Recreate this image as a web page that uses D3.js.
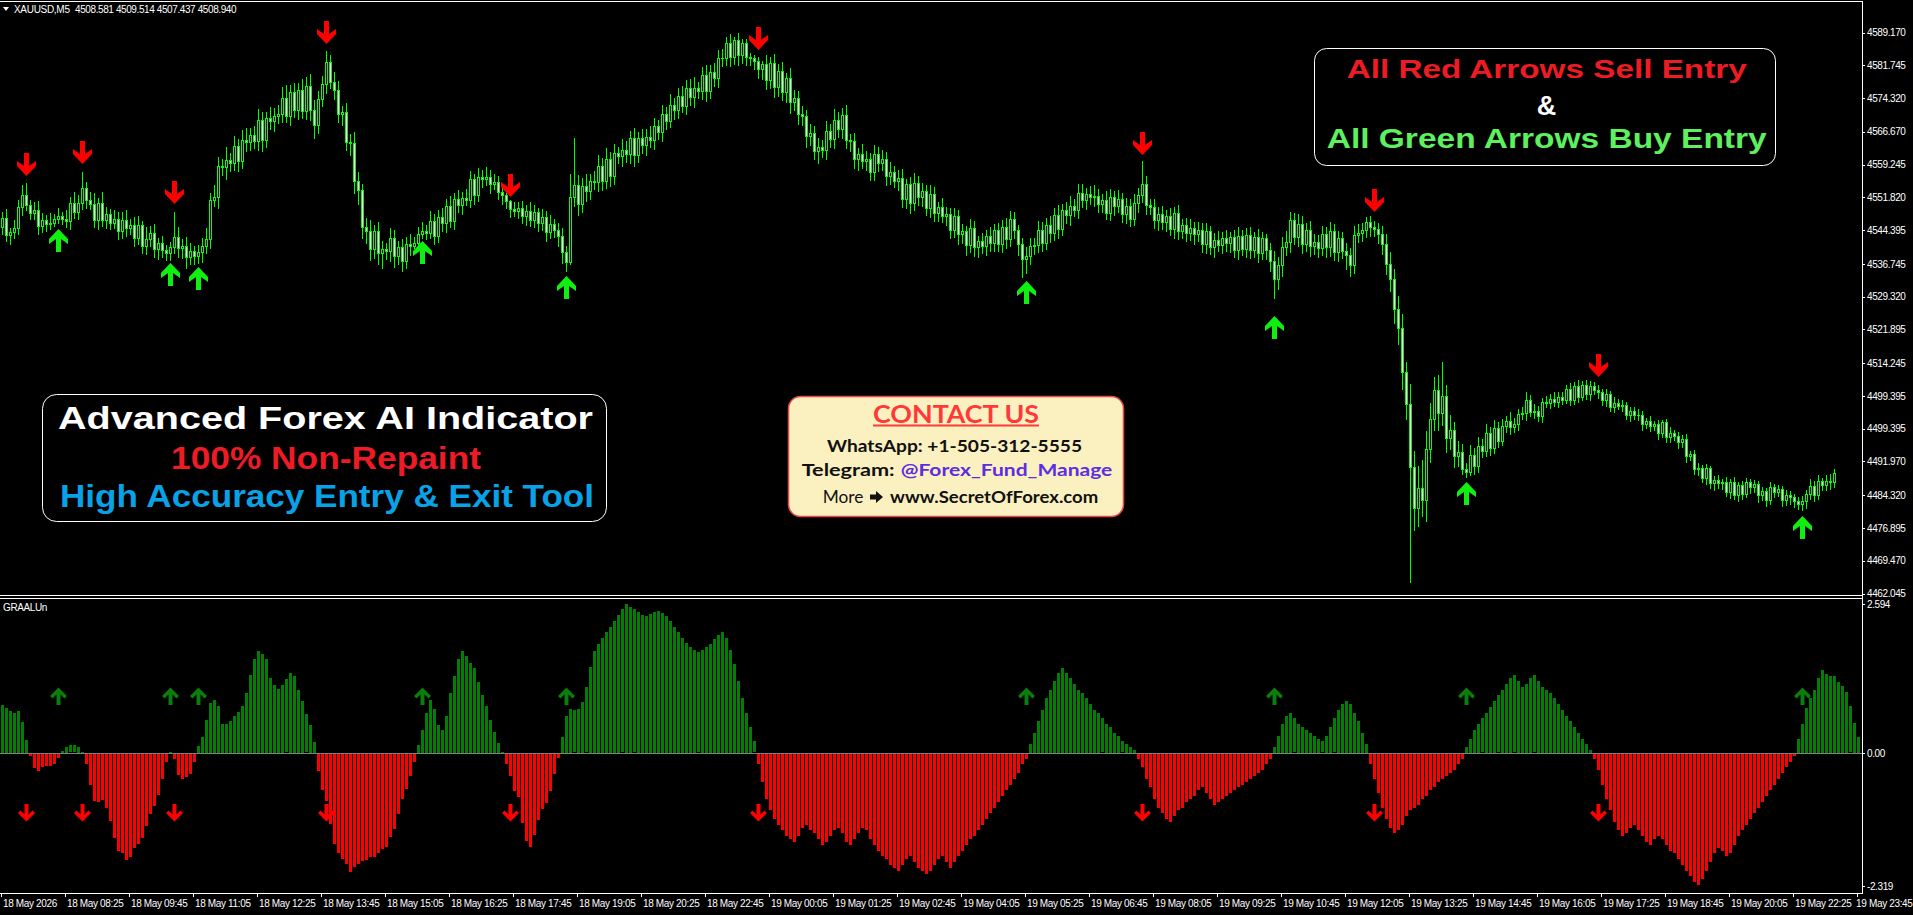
<!DOCTYPE html>
<html><head><meta charset="utf-8">
<script src="https://cdn.jsdelivr.net/npm/d3@7"></script>
<style>
html,body{margin:0;padding:0;background:#000;overflow:hidden}
svg{display:block}
text{font-family:"Liberation Sans",Arial,sans-serif}
</style></head><body>
<svg id="c" width="1913" height="915"></svg>
<script>
// ---------- DATA ----------
const symbolLabel = "XAUUSD,M5";
const quoteLabel = "4508.581 4509.514 4507.437 4508.940";
const indicatorName = "GRAALUn";
const openFirst = 4545.2;
const closes = [
4547.1,4543.2,4543.9,4544.8,4549.7,4552.4,4550.1,4548.3,4548.9,4545.3,
4546.7,4545.7,4545.9,4546.8,4547.6,4546.9,4546.4,4550.5,4548.4,4550.6,
4554.0,4551.2,4550.4,4546.6,4550.6,4546.6,4548.0,4546.1,4547.0,4544.2,
4546.6,4544.8,4545.6,4542.7,4545.5,4540.9,4542.4,4543.8,4540.0,4541.5,
4539.8,4539.2,4540.5,4542.9,4540.3,4540.9,4538.4,4539.7,4538.6,4539.4,
4540.8,4542.3,4551.3,4551.8,4558.9,4558.8,4560.3,4559.5,4563.5,4560.1,
4564.9,4564.4,4566.0,4564.5,4569.3,4564.7,4569.8,4569.2,4570.3,4570.7,
4574.4,4570.3,4575.7,4571.6,4576.2,4571.3,4577.1,4571.7,4568.3,4574.2,
4577.5,4582.4,4578.0,4576.2,4570.6,4571.1,4564.4,4564.1,4555.5,4553.4,
4545.1,4544.3,4540.0,4544.3,4539.3,4540.2,4539.6,4542.6,4538.6,4540.5,
4537.3,4541.3,4540.8,4541.5,4543.4,4544.2,4543.8,4546.4,4543.1,4547.4,
4545.9,4549.8,4546.4,4551.5,4550.1,4551.6,4551.2,4555.9,4552.3,4556.5,
4556.0,4556.5,4554.9,4555.4,4553.1,4552.3,4550.9,4549.2,4548.8,4549.3,
4547.5,4548.8,4546.7,4548.4,4546.0,4547.3,4544.0,4545.7,4544.5,4543.0,
4539.4,4537.2,4552.0,4554.5,4550.4,4554.3,4553.3,4555.5,4555.2,4559.0,
4555.5,4560.6,4556.7,4561.8,4561.1,4562.5,4561.7,4565.2,4561.4,4565.2,
4563.7,4565.6,4564.8,4567.9,4566.6,4570.6,4569.2,4572.8,4571.5,4574.7,
4572.6,4576.7,4574.6,4576.5,4575.9,4579.5,4575.9,4580.2,4578.9,4583.5,
4583.4,4586.8,4583.6,4587.4,4584.0,4586.9,4583.7,4583.5,4582.8,4580.9,
4582.1,4578.3,4582.2,4576.8,4580.4,4575.6,4578.8,4573.4,4574.4,4570.6,
4570.2,4565.8,4566.3,4562.3,4563.2,4562.5,4566.8,4565.1,4569.3,4567.4,
4570.4,4564.8,4564.6,4560.5,4561.6,4560.0,4560.6,4557.6,4561.7,4559.7,
4560.6,4556.7,4557.6,4555.6,4556.2,4551.4,4554.8,4550.6,4555.1,4551.9,
4553.2,4549.5,4552.6,4548.3,4549.7,4547.7,4548.1,4544.5,4547.5,4543.4,
4544.2,4541.0,4544.9,4540.5,4542.0,4540.9,4543.0,4541.5,4544.5,4541.2,
4545.2,4542.3,4547.0,4544.5,4541.2,4537.9,4538.6,4540.9,4541.1,4544.4,
4541.5,4545.6,4543.7,4547.8,4544.6,4548.9,4547.8,4549.8,4549.0,4552.8,
4551.2,4552.5,4551.9,4552.2,4550.4,4551.2,4548.3,4551.8,4549.9,4551.5,
4548.0,4549.9,4547.0,4550.5,4552.4,4554.8,4550.0,4549.6,4546.6,4548.1,
4546.2,4547.5,4544.7,4548.2,4544.1,4545.6,4543.8,4544.9,4543.4,4544.4,
4541.2,4544.1,4540.6,4542.2,4541.1,4542.6,4541.5,4542.9,4539.8,4543.1,
4540.2,4543.2,4539.8,4542.8,4539.2,4542.5,4539.8,4537.5,4533.2,4536.4,
4540.6,4541.6,4546.6,4542.8,4545.8,4541.2,4544.4,4540.7,4541.8,4540.4,
4543.5,4540.5,4544.2,4539.5,4542.5,4539.6,4538.8,4536.5,4543.2,4543.7,
4544.4,4546.2,4545.0,4544.6,4543.4,4541.2,4536.6,4533.4,4526.5,4522.3,
4512.3,4505.0,4490.6,4481.5,4486.0,4483.2,4494.8,4501.6,4508.2,4503.0,
4506.8,4497.3,4499.0,4493.1,4494.1,4490.2,4489.6,4493.4,4491.0,4495.5,
4494.4,4498.4,4495.1,4499.6,4496.7,4499.9,4501.2,4499.8,4500.5,4502.8,
4502.9,4506.0,4503.2,4503.4,4502.3,4505.4,4505.2,4506.2,4505.5,4506.6,
4506.0,4508.4,4506.0,4509.0,4506.6,4509.4,4507.3,4509.0,4508.2,4507.6,
4505.8,4507.3,4504.3,4505.3,4504.6,4504.8,4502.5,4503.4,4502.5,4502.6,
4500.4,4501.1,4500.1,4500.4,4498.4,4500.8,4497.5,4498.5,4497.7,4496.4,
4497.1,4493.2,4493.7,4490.3,4490.4,4488.2,4490.4,4487.0,4487.7,4487.0,
4487.4,4485.0,4487.2,4484.4,4486.7,4484.6,4487.2,4486.1,4486.8,4484.3,
4485.3,4483.2,4486.1,4485.1,4485.7,4483.2,4484.3,4483.9,4483.0,4482.4,
4482.9,4484.5,4486.5,4484.3,4487.5,4486.7,4487.6,4487.2,4489.3];
const wickUp = [
1.4,2.1,0.9,1.8,1.5,2.3,2.6,1.2,1.9,2.2, 1.6,1.1,2.4,1.3,1.7,0.9,2.0,1.5,2.6,1.8,
3.5,1.4,1.9,2.3,1.1,2.5,1.6,1.2,2.0,1.4, 1.8,2.4,1.3,1.7,2.1,1.0,2.6,1.5,1.9,1.2,
1.6,1.3,1.1,5.5,2.2,1.5,2.0,1.8,1.2,1.6, 1.9,2.5,1.4,2.8,2.1,1.7,2.9,1.6,2.3,1.5,
2.2,2.7,1.6,1.9,2.5,1.8,1.4,2.6,1.7,2.1, 2.4,2.8,1.5,2.0,1.6,2.5,1.9,2.7,2.1,1.8,
1.8,2.5,1.6,2.3,1.9,1.5,2.2,1.8,2.6,2.0, 1.5,2.1,2.4,1.3,2.0,1.7,1.2,2.3,1.8,1.4,
1.9,1.5,2.2,1.3,1.6,2.0,1.4,2.3,1.7,1.5, 2.1,1.6,2.4,1.4,1.9,1.5,2.2,1.8,1.3,2.0,
1.5,2.1,1.6,1.8,1.3,0.8,0.6,0.3,1.5,1.4, 1.7,1.3,2.0,1.6,1.1,1.8,1.4,2.1,1.2,1.6,
1.9,1.5,5.0,10.8,2.3,1.9,2.7,1.7,2.2,2.5, 1.8,2.4,1.6,2.1,1.5,2.5,2.0,1.7,2.3,1.5,
2.0,1.6,2.4,1.9,1.4,2.2,1.8,2.5,1.5,1.9, 2.3,1.6,2.0,2.6,1.5,1.9,2.4,1.7,2.1,1.8,
1.9,1.3,2.0,0.8,1.6,0.8,0.9,0.8,0.5,0.8, 0.7,1.9,1.5,2.2,1.6,2.0,1.3,2.3,1.7,1.5,
1.9,1.3,2.1,1.6,2.0,1.5,2.4,1.7,2.6,1.9, 1.6,2.3,1.4,1.9,1.5,2.2,1.8,1.2,2.0,1.6,
1.9,1.5,2.3,1.4,1.8,2.0,1.2,1.6,2.2,1.5, 1.8,1.4,2.0,1.6,1.1,1.9,1.5,1.2,1.8,1.4,
1.6,1.2,1.9,1.5,1.1,1.8,1.4,2.0,1.2,1.6, 1.5,2.0,1.8,1.4,1.1,1.5,1.9,1.6,1.4,2.1,
1.8,1.5,2.0,1.6,2.3,1.4,1.9,2.4,1.6,2.0, 2.1,1.5,1.9,2.5,1.6,1.4,2.0,1.8,1.5,1.9,
1.4,1.8,1.5,2.0,1.6,5.2,1.8,1.4,1.9,1.5, 1.8,1.4,2.0,1.5,1.9,1.2,1.6,2.1,1.4,1.8,
1.5,1.9,1.2,1.6,2.0,1.4,1.8,1.1,1.5,1.9, 1.4,1.6,2.0,1.2,1.8,1.5,1.1,1.6,2.1,1.9,
2.2,2.6,2.0,1.6,2.3,1.9,1.5,2.1,1.8,1.4, 1.9,1.6,2.0,1.5,1.8,1.4,1.9,1.6,2.2,2.0,
1.5,1.1,1.4,1.5,1.5,1.9,2.3,2.8,2.1,3.0, 3.0,2.2,4.5,3.8,5.0,6.2,4.1,3.5,2.8,3.3,
7.6,2.6,3.4,2.0,2.5,1.8,1.4,2.2,1.6,1.9, 1.5,2.0,1.3,1.7,1.2,1.6,1.1,1.9,1.4,1.0,
1.3,1.8,1.0,1.5,1.2,0.9,1.4,1.1,1.6,1.0, 1.2,0.9,1.3,1.0,1.4,0.8,1.1,1.2,0.9,1.2,
0.8,1.0,0.7,1.2,0.9,1.1,0.6,1.0,0.8,1.2, 0.9,0.7,1.1,0.8,1.0,0.6,0.9,1.2,0.7,1.0,
0.8,1.1,0.7,0.9,1.2,0.8,1.0,0.6,0.9,1.1, 0.7,1.0,0.8,1.2,0.6,0.9,1.1,0.7,1.0,0.8,
0.9,0.6,1.1,0.8,1.0,0.7,1.2,0.9,0.6,1.0, 1.3,0.9,1.5,1.1,1.4,0.8,1.2,1.6,1.0];
const wickDn = [
1.6,1.2,2.0,1.4,1.3,1.8,1.1,1.5,1.4,1.9, 1.3,1.6,1.1,0.5,0.9,1.2,1.4,1.7,1.2,1.6,
1.4,1.8,1.3,1.6,2.0,1.2,1.7,1.5,1.3,1.9, 1.5,1.7,1.2,2.0,1.4,1.6,1.9,1.5,1.7,2.1,
1.6,1.5,1.6,1.3,1.9,2.2,2.5,1.8,1.8,1.6, 2.2,1.6,2.0,1.5,2.3,1.9,2.8,1.7,1.5,2.4,
1.6,2.1,1.9,1.4,2.0,2.3,1.5,1.8,2.4,1.6, 1.9,1.5,2.1,1.6,2.0,1.4,1.8,2.3,3.1,1.9,
1.6,2.0,1.5,2.2,1.8,2.4,1.9,2.6,2.8,3.2, 2.6,2.9,2.3,2.0,2.7,3.5,1.8,2.1,2.5,1.9,
2.2,1.6,2.0,0.5,0.5,0.9,1.5,1.3,1.9,1.4, 1.6,1.9,1.3,1.8,1.5,2.0,1.2,1.6,1.9,1.3,
1.8,1.5,2.0,1.3,1.6,1.9,1.5,1.8,1.3,1.6, 1.5,1.9,1.3,1.6,1.8,1.5,2.0,1.3,1.6,2.2,
2.5,2.0,0.6,2.1,2.5,1.8,2.2,1.9,1.6,2.0, 2.1,1.6,2.3,1.9,1.5,2.2,1.8,2.0,2.4,1.6,
1.9,2.2,1.5,2.0,1.6,2.1,1.8,1.4,1.9,1.6, 1.5,2.0,1.8,2.3,1.6,1.9,2.2,1.5,1.8,2.0,
1.9,1.6,2.1,1.5,2.2,1.8,2.0,1.6,1.9,2.1, 2.3,1.9,1.6,2.2,2.0,1.8,2.1,2.4,1.9,2.2,
2.0,2.5,2.2,1.9,2.6,1.6,2.0,1.8,2.1,1.9, 2.2,1.9,2.3,2.0,2.5,1.6,2.1,1.9,1.8,2.0,
1.6,2.1,1.9,1.5,2.2,1.8,2.0,2.3,1.6,1.9, 2.0,1.6,2.1,1.8,1.9,1.5,2.2,2.0,1.6,2.1,
1.9,2.2,1.5,2.0,2.3,1.6,2.1,1.8,1.9,1.5, 1.8,2.0,1.5,1.9,2.5,4.2,3.2,2.0,2.0,1.6,
1.9,1.5,2.1,1.6,2.0,1.4,1.8,2.2,1.5,1.9, 1.6,2.0,1.5,2.1,1.8,1.9,1.4,1.6,2.0,1.5,
1.8,2.1,1.6,1.4,1.9,1.6,2.0,1.5,1.8,2.1, 1.6,1.9,1.5,2.0,1.8,1.4,1.9,1.6,2.1,1.5,
1.8,2.0,1.6,2.2,1.5,1.9,1.8,2.1,1.6,1.9, 1.5,2.0,1.8,1.6,2.1,1.4,1.9,2.3,4.3,2.2,
2.5,1.8,2.1,1.6,2.0,1.9,1.5,2.2,1.8,2.0, 1.6,2.1,1.9,1.8,2.2,1.5,3.3,2.5,1.9,1.6,
1.8,1.5,2.0,1.6,1.9,2.3,2.1,2.7,3.2,3.8, 4.0,3.5,26.0,5.0,4.2,3.6,4.8,3.0,2.5,4.0,
2.8,3.2,2.6,2.4,2.1,1.0,1.2,0.8,1.8,1.5, 1.4,1.1,1.6,1.2,1.5,1.0,1.3,1.7,1.1,1.4,
1.2,1.5,1.0,1.3,1.1,1.4,0.9,1.2,1.0,1.3, 1.1,0.9,1.3,1.0,1.2,0.8,1.1,1.4,0.9,1.2,
1.0,1.3,0.9,1.1,0.8,1.2,1.0,1.4,0.9,1.1, 1.3,0.9,1.2,1.0,1.4,0.8,1.1,1.2,0.9,1.3,
1.1,1.4,1.0,1.2,1.5,0.9,1.3,1.1,1.6,1.0, 1.2,0.9,1.4,1.0,1.3,1.1,0.8,1.2,1.0,1.5,
1.1,1.3,0.9,1.2,1.0,1.4,1.1,1.6,1.3,1.2, 1.5,1.4,1.0,1.3,0.9,1.2,1.1,1.4,1.0];
const histValues = [
0.83,0.78,0.73,0.69,0.73,0.54,0.22,-0.06,-0.26,-0.31,
-0.24,-0.22,-0.22,-0.19,-0.08,0.04,0.11,0.13,0.13,0.11,
0.02,-0.19,-0.55,-0.83,-0.85,-0.82,-0.96,-1.18,-1.48,-1.71,
-1.75,-1.86,-1.82,-1.66,-1.58,-1.48,-1.27,-1.07,-0.92,-0.73,
-0.46,-0.16,0.02,-0.11,-0.39,-0.45,-0.41,-0.37,-0.15,0.12,
0.28,0.58,0.87,0.92,0.82,0.51,0.51,0.56,0.64,0.71,
0.82,1.05,1.36,1.63,1.77,1.73,1.63,1.30,1.19,1.11,
1.18,1.28,1.39,1.34,1.09,0.91,0.67,0.49,0.19,-0.31,
-0.64,-0.84,-1.24,-1.59,-1.75,-1.84,-1.93,-2.07,-1.99,-1.93,
-1.88,-1.87,-1.81,-1.82,-1.75,-1.68,-1.63,-1.47,-1.32,-1.07,
-0.81,-0.62,-0.40,-0.15,0.14,0.40,0.69,0.92,0.76,0.49,
0.40,0.65,1.05,1.34,1.64,1.77,1.69,1.57,1.48,1.23,
1.01,0.82,0.58,0.37,0.17,0.02,-0.19,-0.40,-0.66,-0.77,
-1.22,-1.53,-1.63,-1.43,-1.16,-0.98,-0.87,-0.66,-0.37,-0.09,
0.28,0.64,0.76,0.74,0.76,0.89,1.14,1.50,1.77,1.90,
2.00,2.10,2.20,2.30,2.40,2.50,2.59,2.55,2.50,2.45,
2.40,2.38,2.42,2.45,2.47,2.44,2.38,2.30,2.20,2.10,
2.00,1.92,1.85,1.80,1.75,1.80,1.85,1.90,1.98,2.05,
2.10,2.00,1.80,1.55,1.25,0.95,0.70,0.45,0.20,-0.20,
-0.50,-0.80,-1.00,-1.15,-1.25,-1.35,-1.45,-1.50,-1.55,-1.45,
-1.30,-1.25,-1.35,-1.40,-1.50,-1.60,-1.55,-1.45,-1.35,-1.30,
-1.40,-1.55,-1.60,-1.50,-1.40,-1.30,-1.35,-1.50,-1.60,-1.70,
-1.80,-1.85,-1.95,-2.00,-2.05,-1.95,-1.85,-1.80,-1.90,-2.00,
-2.05,-2.10,-2.05,-1.95,-1.85,-1.80,-1.90,-2.00,-1.90,-1.80,
-1.70,-1.60,-1.50,-1.45,-1.35,-1.25,-1.15,-1.05,-0.95,-0.85,
-0.75,-0.65,-0.55,-0.45,-0.35,-0.20,-0.10,0.15,0.35,0.55,
0.75,0.95,1.10,1.25,1.40,1.48,1.40,1.30,1.20,1.10,
1.05,0.95,0.85,0.75,0.70,0.60,0.50,0.45,0.35,0.30,
0.20,0.15,0.10,0.05,-0.10,-0.25,-0.45,-0.60,-0.80,-0.95,
-1.05,-1.15,-1.20,-1.10,-1.00,-0.95,-0.85,-0.80,-0.75,-0.65,
-0.60,-0.70,-0.80,-0.90,-0.85,-0.80,-0.75,-0.70,-0.65,-0.60,
-0.55,-0.50,-0.45,-0.40,-0.35,-0.30,-0.20,-0.10,0.10,0.30,
0.50,0.65,0.70,0.60,0.50,0.45,0.40,0.35,0.30,0.25,
0.20,0.30,0.45,0.60,0.75,0.85,0.90,0.85,0.70,0.55,
0.35,0.15,-0.20,-0.45,-0.70,-0.95,-1.15,-1.30,-1.40,-1.35,
-1.25,-1.10,-1.00,-0.95,-0.90,-0.80,-0.75,-0.65,-0.60,-0.50,
-0.45,-0.40,-0.35,-0.30,-0.20,-0.10,0.10,0.25,0.40,0.50,
0.60,0.70,0.80,0.90,1.00,1.10,1.20,1.30,1.35,1.25,
1.15,1.20,1.30,1.35,1.25,1.15,1.10,1.05,0.95,0.85,
0.75,0.65,0.55,0.45,0.35,0.25,0.15,0.05,-0.10,-0.30,
-0.55,-0.80,-1.00,-1.20,-1.35,-1.45,-1.40,-1.30,-1.25,-1.35,
-1.45,-1.55,-1.60,-1.50,-1.45,-1.50,-1.60,-1.70,-1.75,-1.85,
-1.95,-2.05,-2.15,-2.25,-2.30,-2.20,-2.05,-1.90,-1.75,-1.65,
-1.70,-1.80,-1.75,-1.60,-1.45,-1.35,-1.25,-1.15,-1.05,-0.95,
-0.85,-0.75,-0.65,-0.55,-0.45,-0.35,-0.25,-0.15,-0.05,0.25,
0.50,0.78,0.95,1.10,1.30,1.45,1.38,1.34,1.34,1.24,
1.17,1.06,0.81,0.52,0.28];
const sellIdx = [6,20,43,81,127,189,285,343,399];
const sellTip = [4556.6,4559.4,4550.2,4586.5,4551.9,4585.1,4561.3,4548.4,4511.0];
const buyIdx  = [14,42,49,105,141,256,318,366,450];
const buyTip  = [4544.7,4536.9,4536.1,4541.9,4533.9,4532.8,4525.0,4487.2,4479.7];
const subBuyLevel = 1.15;
const subSellLevel = -1.2;
const priceTicks = [4589.17,4581.745,4574.32,4566.67,4559.245,4551.82,4544.395,4536.745,4529.32,4521.895,4514.245,4506.82,4499.395,4491.97,4484.32,4476.895,4469.47,4462.045];
const priceTickLabels = ["4589.170","4581.745","4574.320","4566.670","4559.245","4551.820","4544.395","4536.745","4529.320","4521.895","4514.245","4499.395","4499.395","4491.970","4484.320","4476.895","4469.470","4462.045"];
const histTicks = [2.594, 0, -2.319];
const histTickLabels = ["2.594","0.00","-2.319"];
const timeLabels = ["18 May 2026","18 May 08:25","18 May 09:45","18 May 11:05","18 May 12:25","18 May 13:45","18 May 15:05","18 May 16:25","18 May 17:45","18 May 19:05","18 May 20:25","18 May 22:45","19 May 00:05","19 May 01:25","19 May 02:45","19 May 04:05","19 May 05:25","19 May 06:45","19 May 08:05","19 May 09:25","19 May 10:45","19 May 12:05","19 May 13:25","19 May 14:45","19 May 16:05","19 May 17:25","19 May 18:45","19 May 20:05","19 May 22:25","19 May 23:45"];
const barsPerLabel = 16;
const leftBoxLines = ["Advanced Forex AI Indicator","100% Non-Repaint","High Accuracy Entry & Exit Tool"];
const rightBoxLines = ["All Red Arrows Sell Entry","&","All Green Arrows Buy Entry"];
const contactTitle = "CONTACT US";
const contactWhatsApp = "WhatsApp: +1-505-312-5555";
const contactTelegramLabel = "Telegram:";
const contactTelegramHandle = "@Forex_Fund_Manage";
const contactMore = "More";
const contactSite = "www.SecretOfForex.com";

// ---------- CHART ----------
const svg = d3.select('#c');
const RIGHT = 1862;
const x = d3.scaleLinear().domain([0, 464]).range([2.5, 1858.5]);
const y = d3.scaleLinear().domain([4462.045, 4589.17]).range([593.5, 32.5]);
const yh = d3.scaleLinear().domain([-2.319, 2.594]).range([886, 604]);

svg.append('rect').attr('width',1913).attr('height',915).attr('fill','#000');

// frame lines
const frame = svg.append('g').attr('stroke','#fff').attr('stroke-width',1).attr('shape-rendering','crispEdges');
frame.append('line').attr('x1',0).attr('x2',RIGHT).attr('y1',1.5).attr('y2',1.5);
frame.append('line').attr('x1',0).attr('x2',RIGHT).attr('y1',595.5).attr('y2',595.5);
frame.append('line').attr('x1',0).attr('x2',RIGHT).attr('y1',598.5).attr('y2',598.5);
frame.append('line').attr('x1',0).attr('x2',RIGHT+0.5).attr('y1',893.5).attr('y2',893.5);
frame.append('line').attr('x1',RIGHT+0.5).attr('x2',RIGHT+0.5).attr('y1',1).attr('y2',894);

// candles
const candles = closes.map((c,i)=>{
  const o = i ? closes[i-1] : openFirst;
  return {i, o, c, h: Math.max(o,c)+wickUp[i], l: Math.min(o,c)-wickDn[i]};
});
const gC = svg.append('g').attr('shape-rendering','crispEdges');
gC.selectAll('line.wick').data(candles).join('line').attr('class','wick')
  .attr('x1',d=>x(d.i)).attr('x2',d=>x(d.i))
  .attr('y1',d=>Math.round(y(d.h))).attr('y2',d=>Math.round(y(d.l))+1)
  .attr('stroke','#00ff00').attr('stroke-width',1);
const bodyTop = d=>Math.round(y(Math.max(d.o,d.c)));
const bodyH = d=>Math.max(1, Math.round(y(Math.min(d.o,d.c))) - bodyTop(d) + 1);
gC.selectAll('rect.body').data(candles).join('rect').attr('class','body')
  .attr('x',d=>x(d.i)-1.5).attr('width',3)
  .attr('y',bodyTop).attr('height',bodyH).attr('fill','#00ff00');
gC.selectAll('rect.fill').data(candles.filter(d=>bodyH(d)>=3)).join('rect').attr('class','fill')
  .attr('x',d=>x(d.i)-0.5).attr('width',1)
  .attr('y',d=>bodyTop(d)+1).attr('height',d=>bodyH(d)-2)
  .attr('fill',d=>d.c>=d.o ? '#000' : '#fff');

// main arrows
const downPts = [[-2.5,-23],[2.5,-23],[2.5,-10],[9.5,-15],[9.5,-10],[0,0],[-9.5,-10],[-9.5,-15],[-2.5,-10]];
const upPts = downPts.map(p=>[p[0],-p[1]]);
const subDownPts = [[-2,-18],[2,-18],[2,-7.5],[6,-11.5],[8.5,-9],[0,-0.5],[-8.5,-9],[-6,-11.5],[-2,-7.5]];
const subUpPts = subDownPts.map(p=>[p[0],-p[1]]);
const poly = pts => 'M'+pts.map(p=>p.join(',')).join('L')+'Z';
const sells = sellIdx.map((i,k)=>({i, p: sellTip[k]}));
const buys = buyIdx.map((i,k)=>({i, p: buyTip[k]}));
svg.append('g').selectAll('path').data(sells).join('path')
  .attr('d',poly(downPts)).attr('fill','#ff0000')
  .attr('transform',d=>`translate(${x(d.i)},${Math.round(y(d.p))})`);
svg.append('g').selectAll('path').data(buys).join('path')
  .attr('d',poly(upPts)).attr('fill','#10f010')
  .attr('transform',d=>`translate(${x(d.i)},${Math.round(y(d.p))})`);

// histogram
const gH = svg.append('g').attr('shape-rendering','crispEdges');
gH.selectAll('rect').data(histValues.map((v,i)=>({i,v}))).join('rect')
  .attr('x',d=>x(d.i)-1.5).attr('width',3)
  .attr('y',d=>Math.round(d.v>0 ? yh(d.v) : yh(0)))
  .attr('height',d=>Math.max(1,Math.round(Math.abs(yh(d.v)-yh(0)))))
  .attr('fill',d=>d.v>0 ? '#008000' : '#ff0000');
svg.append('line').attr('x1',0).attr('x2',RIGHT).attr('y1',Math.round(yh(0))+0.5).attr('y2',Math.round(yh(0))+0.5)
  .attr('stroke','#808080').attr('shape-rendering','crispEdges');

// sub arrows
svg.append('g').selectAll('path').data(sellIdx).join('path')
  .attr('d',poly(subDownPts)).attr('fill','#ff0000')
  .attr('transform',i=>`translate(${x(i)},${Math.round(yh(subSellLevel))})`);
svg.append('g').selectAll('path').data(buyIdx).join('path')
  .attr('d',poly(subUpPts)).attr('fill','#0a7d0a')
  .attr('transform',i=>`translate(${x(i)},${Math.round(yh(subBuyLevel))})`);

// axes
function styleAxis(g, spacing){
  g.select('.domain').remove();
  g.selectAll('line').attr('stroke','#fff').attr('shape-rendering','crispEdges');
  g.selectAll('text').attr('fill','#fff').style('font-family','"Liberation Sans",Arial,sans-serif')
   .style('font-size','10px').style('letter-spacing',spacing);
}
const pAxis = svg.append('g').attr('transform',`translate(${RIGHT},0)`)
  .call(d3.axisRight(y).tickValues(priceTicks).tickFormat((d,k)=>priceTickLabels[k]).tickSize(3).tickPadding(2));
styleAxis(pAxis,'-0.4px');
const hAxis = svg.append('g').attr('transform',`translate(${RIGHT},0)`)
  .call(d3.axisRight(yh).tickValues(histTicks).tickFormat((d,k)=>histTickLabels[k]).tickSize(3).tickPadding(2));
styleAxis(hAxis,'-0.4px');
const tAxis = svg.append('g').attr('transform','translate(-2,893)')
  .call(d3.axisBottom(x).tickValues(timeLabels.map((t,k)=>k*barsPerLabel)).tickFormat((d,k)=>timeLabels[k]).tickSize(4).tickPadding(3));
styleAxis(tAxis,'-0.35px');
tAxis.selectAll('text').attr('text-anchor','start').attr('x',2);
// keep the last label inside the picture
tAxis.selectAll('.tick').filter((d,k)=>k===timeLabels.length-1).select('text')
  .attr('text-anchor','end').attr('x', 1912 - (x(464)-2));

// header
svg.append('path').attr('d','M3,7L9,7L6,11Z').attr('fill','#fff');
svg.append('text').attr('x',14).attr('y',13).attr('fill','#fff').style('font-size','10px').style('letter-spacing','-0.3px').text(symbolLabel);
svg.append('text').attr('x',75).attr('y',13).attr('fill','#fff').style('font-size','10px').style('letter-spacing','-0.4px').text(quoteLabel);
svg.append('text').attr('x',3).attr('y',611).attr('fill','#fff').style('font-size','10px').style('letter-spacing','-0.4px').text(indicatorName);

// boxes
function boxText(t, cx, by, size, color, len, weight, family){
  const el = svg.append('text').attr('x',cx).attr('y',by).attr('text-anchor','middle')
    .attr('fill',color).style('font-size',size+'px').style('font-weight',weight||'bold').text(t);
  if (family) el.style('font-family',family);
  if (len) el.attr('textLength',len).attr('lengthAdjust','spacingAndGlyphs');
  return el;
}
// right box
svg.append('rect').attr('x',1314.5).attr('y',48.5).attr('width',461).attr('height',117).attr('rx',12)
  .attr('fill','#000').attr('stroke','#fff');
boxText(rightBoxLines[0],1546.7,78,26,'#ed1c24',400);
boxText(rightBoxLines[1],1546.5,115,27,'#fff',null);
boxText(rightBoxLines[2],1546.7,148,27,'#5ef05e',440);
// left box
svg.append('rect').attr('x',42.5).attr('y',394.5).attr('width',564).attr('height',127).attr('rx',14)
  .attr('fill','#000').attr('stroke','#fff');
boxText(leftBoxLines[0],325.5,429,32,'#fff',535);
boxText(leftBoxLines[1],326,469,31,'#ed1c24',310);
boxText(leftBoxLines[2],327,507,31,'#0aa2e6',534);
// contact box
const LATO = 'Lato,"Liberation Sans",sans-serif';
svg.append('rect').attr('x',788.5).attr('y',396.5).attr('width',335).attr('height',120).attr('rx',12)
  .attr('fill','#fbf0c0').attr('stroke','#ee4444').attr('stroke-width',1.5);
boxText(contactTitle,956,423,24,'#ff3838',166,'bold',LATO);
svg.append('rect').attr('x',873).attr('y',424.5).attr('width',166).attr('height',2).attr('fill','#ff3838');
boxText(contactWhatsApp,954.5,452,17,'#111',255,'bold',LATO);
svg.append('text').attr('x',801.7).attr('y',476).attr('fill','#111').style('font-family',LATO).style('font-size','17px').style('font-weight','bold')
  .attr('textLength',93).attr('lengthAdjust','spacingAndGlyphs').text(contactTelegramLabel);
svg.append('text').attr('x',900.7).attr('y',476).attr('fill','#5d2de0').style('font-family',LATO).style('font-size','17px').style('font-weight','bold')
  .attr('textLength',211.6).attr('lengthAdjust','spacingAndGlyphs').text(contactTelegramHandle);
svg.append('text').attr('x',822.7).attr('y',502.5).attr('fill','#111').style('font-family',LATO).style('font-size','17px').style('font-weight','normal')
  .attr('textLength',40.6).attr('lengthAdjust','spacingAndGlyphs').text(contactMore);
svg.append('path').attr('d','M870,494.5L876,494.5L876,491L883,497L876,503L876,499.5L870,499.5Z').attr('fill','#111');
svg.append('text').attr('x',890).attr('y',502.5).attr('fill','#111').style('font-family',LATO).style('font-size','17px').style('font-weight','bold')
  .attr('textLength',208.3).attr('lengthAdjust','spacingAndGlyphs').text(contactSite);
</script>
</body></html>
